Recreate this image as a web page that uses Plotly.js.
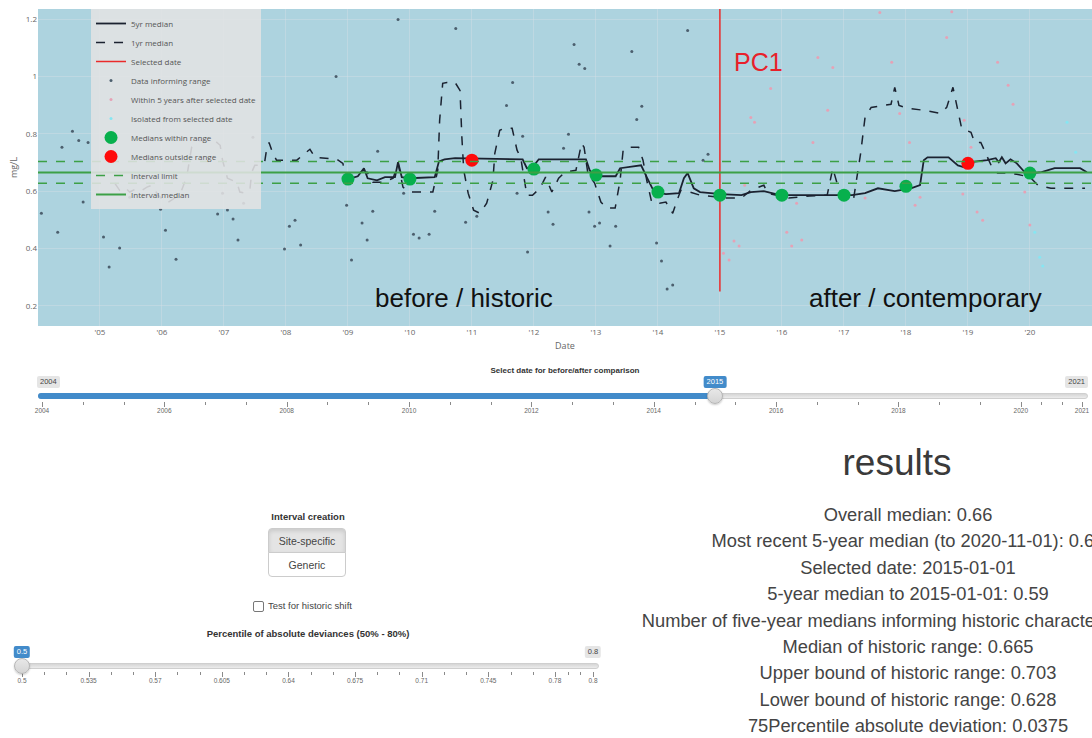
<!DOCTYPE html>
<html>
<head>
<meta charset="utf-8">
<script src="https://cdn.plot.ly/plotly-3.0.1.min.js"></script>
<style>
html,body{margin:0;padding:0;width:1092px;height:738px;overflow:hidden;background:#fff;
  font-family:"Liberation Sans",Arial,Helvetica,sans-serif;color:#333;}
#chart{position:absolute;left:0;top:0;width:1092px;height:360px;}
.a{position:absolute;white-space:nowrap;}
.ttl{font-weight:bold;color:#333;transform:translate(-50%,-50%);}
.line{background:linear-gradient(#d6d6d6,#ececec);border:1px solid #cfcfcf;border-radius:4px;height:4px;}
.bar{background:#428bca;border-radius:4px;height:6px;}
.handle{width:16px;height:16px;border-radius:50%;background:linear-gradient(#e8e8e8,#d4d4d4);border:1px solid #b5b5b5;box-sizing:border-box;transform:translate(-50%,-50%);box-shadow:0 1px 2px rgba(0,0,0,0.2);}
.lbl{font-size:7.5px;line-height:10px;padding:1px 3px;border-radius:2px;background:rgba(0,0,0,0.1);color:#444;}
.lbl.v{background:#428bca;color:#fff;}
.tk{width:1px;background:#8a8a8a;}
.gt{font-size:6.5px;color:#666;transform:translateX(-50%);}
.btn{left:268px;width:78px;height:25px;box-sizing:border-box;border:1px solid #ccc;font-size:10.5px;color:#444;
  display:flex;align-items:center;justify-content:center;background:#fff;}
.res{font-size:18.3px;color:#444;transform:translate(-50%,-50%);}
</style>
</head>
<body>
<div id="chart"></div>
<div id="ui"></div>
<script>
// ---------- data (decimal years, mg/L) ----------
const fiveYrT = [2009.0,2009.16,2009.26,2009.32,2009.47,2009.60,2009.76,2009.81,2009.87,2010.0,2010.40,2010.47,2010.56,2010.73,2011.82,2011.89,2011.98,2012.08,2012.84,2012.90,2012.98,2013.32,2013.39,2013.52,2013.73,2013.82,2013.94,2014.13,2014.34,2014.42,2014.48,2014.58,2014.68,2015.02,2015.35,2015.50,2015.71,2015.84,2015.97,2017.13,2017.34,2017.55,2017.82,2018.08,2018.23,2018.29,2018.35,2018.69,2018.84,2018.94,2019.05,2019.31,2019.45,2019.50,2019.55,2019.61,2019.69,2019.79,2019.92,2020.03,2020.19,2020.40,2020.81,2020.92];
const fiveYrV = [0.642,0.652,0.680,0.645,0.638,0.649,0.649,0.701,0.649,0.645,0.649,0.704,0.711,0.715,0.711,0.680,0.683,0.711,0.711,0.673,0.652,0.652,0.680,0.683,0.690,0.649,0.597,0.590,0.593,0.645,0.663,0.610,0.597,0.590,0.586,0.597,0.600,0.593,0.586,0.586,0.593,0.610,0.600,0.610,0.621,0.708,0.718,0.718,0.690,0.683,0.701,0.708,0.715,0.701,0.718,0.697,0.711,0.697,0.666,0.663,0.666,0.680,0.680,0.666];

const oneYrT = [2005.24,2005.32,2005.40,2005.48,2005.60,2005.68,2005.76,2005.84,2005.94,2006.08,
2006.21,2006.32,2006.40,2006.44,2006.48,2006.61,2006.85,2006.94,2006.98,2007.06,
2007.21,2007.26,2007.34,2007.42,2007.45,2007.50,2007.58,2007.66,2007.69,2007.73,
2007.79,2007.85,2008.18,2008.27,2008.39,2008.47,2008.60,2008.82,2008.92,2008.95,
2009.03,2009.19,2009.31,2009.40,2009.56,2009.73,2009.81,2009.89,2010.0,2010.37,
2010.45,2010.48,2010.53,2010.60,2010.73,2010.81,2010.84,2010.87,2010.94,2011.03,
2011.13,2011.24,2011.34,2011.37,2011.45,2011.52,2011.65,2011.73,2011.79,2011.85,
2011.89,2011.98,2012.10,2012.19,2012.29,2012.40,2012.50,2012.68,2012.77,2012.81,
2012.87,2012.98,2013.08,2013.18,2013.31,2013.39,2013.44,2013.52,2013.69,2013.76,
2013.82,2013.90,2014.03,2014.13,2014.24,2014.31,2014.37,2014.52,2014.68,2015.10,
2015.35,2015.50,2015.71,2015.77,2016.11,2016.45,2016.73,2016.82,2016.89,2016.97,
2017.16,2017.27,2017.34,2017.44,2017.68,2017.76,2017.82,2017.89,2018.02,2018.29,
2018.56,2018.66,2018.76,2018.84,2018.90,2019.05,2019.11,2019.21,2019.31,2019.39,
2019.48,2019.66,2019.79,2020.0,2020.13,2020.34,2020.89];
const oneYrV = [0.628,0.603,0.614,0.597,0.610,0.603,0.614,0.621,0.586,0.558,
0.576,0.603,0.649,0.708,0.753,0.777,0.777,0.760,0.708,0.645,
0.631,0.597,0.593,0.603,0.666,0.690,0.690,0.701,0.743,0.770,
0.732,0.708,0.708,0.725,0.746,0.718,0.715,0.711,0.697,0.663,
0.645,0.666,0.666,0.631,0.631,0.645,0.697,0.614,0.597,0.597,
0.673,0.847,0.976,0.979,0.979,0.951,0.788,0.673,0.593,0.534,
0.523,0.558,0.638,0.732,0.812,0.819,0.819,0.743,0.715,0.638,
0.586,0.586,0.610,0.649,0.597,0.645,0.666,0.673,0.767,0.753,
0.663,0.628,0.562,0.541,0.541,0.638,0.743,0.753,0.753,0.708,
0.638,0.562,0.558,0.562,0.523,0.569,0.603,0.597,0.586,0.576,
0.576,0.603,0.621,0.593,0.576,0.583,0.586,0.680,0.628,0.579,
0.579,0.732,0.857,0.892,0.899,0.903,0.962,0.899,0.889,0.882,
0.871,0.892,0.962,0.882,0.819,0.805,0.770,0.770,0.718,0.683,
0.663,0.663,0.659,0.649,0.621,0.610,0.610];

const informT = [2004.06,2004.32,2004.39,2004.56,2004.66,2004.73,2004.81,2005.06,2005.15,2005.32,
2005.48,2005.98,2006.06,2006.23,2006.90,2006.98,2007.06,2007.15,2007.23,2007.32,
2007.39,2007.47,2007.98,2008.06,2008.15,2008.24,2008.81,2008.98,2009.06,2009.23,
2009.31,2009.40,2009.48,2009.81,2009.90,2010.06,2010.15,2010.31,2010.40,2010.74,
2010.90,2011.08,2011.56,2011.66,2011.73,2011.82,2011.90,2012.23,2012.31,2012.48,
2012.56,2012.65,2012.73,2012.82,2012.89,2012.98,2013.06,2013.23,2013.32,2013.58,
2013.66,2013.74,2013.98,2014.06,2014.15,2014.24,2014.48,2014.73,2014.81];
const informV = [0.523,0.457,0.753,0.809,0.777,0.562,0.770,0.440,0.336,0.402,
0.579,0.537,0.464,0.363,0.520,0.593,0.534,0.503,0.430,0.558,
0.917,0.788,0.398,0.478,0.499,0.412,1.000,0.551,0.360,0.489,
0.430,0.530,0.739,1.198,0.593,0.450,0.437,0.450,0.530,1.167,
0.492,0.513,0.899,0.979,0.593,0.791,0.388,0.527,0.485,0.750,
0.798,1.111,1.042,1.028,0.527,0.478,0.489,0.409,0.478,1.087,
0.850,0.896,0.419,0.357,0.259,0.273,1.160,0.708,0.729];

const afterT = [2015.06,2015.15,2015.23,2015.31,2015.40,2015.50,2015.56,2015.82,2016.08,2016.16,
2016.24,2016.32,2016.50,2016.58,2016.74,2016.82,2017.34,2017.58,2017.77,2017.90,
2018.06,2018.15,2018.23,2018.66,2018.74,2018.92,2018.94,2019.05,2019.15,2019.24,
2019.48,2019.65,2019.73,2019.92,2020.0];
const afterV = [0.384,0.360,0.426,0.409,0.621,0.857,0.840,0.958,0.457,0.409,
0.558,0.430,0.770,1.066,0.882,1.031,0.576,1.223,1.049,0.871,
0.770,0.551,0.579,1.136,1.225,0.590,0.847,0.753,0.527,0.499,
1.049,0.969,0.903,0.597,0.482];

const isolatedT = [2020.08,2020.16,2020.21,2020.60,2020.74];
const isolatedV = [0.457,0.370,0.339,0.840,0.736];

const withinT = [2009,2010,2012,2013,2014,2015,2016,2017,2018,2020];
const withinV = [0.642,0.642,0.677,0.656,0.597,0.586,0.586,0.586,0.617,0.663];
const outsideT = [2011,2019];
const outsideV = [0.708,0.697];

const intervalMedian = 0.665;
const intervalUpper = 0.703;
const intervalLower = 0.628;
const selectedYear = 2015;
const selectedLineV = [0.25, 1.25];
const axisYears = [2004.005, 2021];

const legendNames = ['5yr median','1yr median','Selected date','Data informing range',
  'Within 5 years after selected date','Isolated from selected date','Medians within range',
  'Medians outside range','Interval limit','Interval median'];

// ---------- helpers ----------
function yrToDate(t){
  const y = Math.floor(t);
  const a = Date.UTC(y,0,1), b = Date.UTC(y+1,0,1);
  return new Date(a + (t-y)*(b-a)).toISOString().slice(0,10);
}
const D = arr => arr.map(yrToDate);
const x0 = yrToDate(axisYears[0]), x1 = yrToDate(axisYears[1]);
const selD = yrToDate(selectedYear);

const lineCol = '#1b2230';
const green = '#3ca046';

const traces = [
  {x:D(fiveYrT), y:fiveYrV, name:legendNames[0], mode:'lines', line:{color:lineCol,width:1.8}},
  {x:D(oneYrT), y:oneYrV, name:legendNames[1], mode:'lines', line:{color:lineCol,width:1.5,dash:'dash'}},
  {x:[selD,selD], y:selectedLineV, name:legendNames[2], mode:'lines', line:{color:'#ea2a2a',width:1.5}},
  {x:D(informT), y:informV, name:legendNames[3], mode:'markers', marker:{color:'#4c5f6e',size:3}},
  {x:D(afterT), y:afterV, name:legendNames[4], mode:'markers', marker:{color:'#e6a2b6',size:3}},
  {x:D(isolatedT), y:isolatedV, name:legendNames[5], mode:'markers', marker:{color:'#86e6f2',size:3}},
  {x:D(withinT), y:withinV, name:legendNames[6], mode:'markers', marker:{color:'#07b04d',size:13}},
  {x:D(outsideT), y:outsideV, name:legendNames[7], mode:'markers', marker:{color:'#ff0a0a',size:13}},
  {x:[x0,x1,null,x0,x1], y:[intervalUpper,intervalUpper,null,intervalLower,intervalLower], name:legendNames[8],
    mode:'lines', connectgaps:false, line:{color:green,width:1.5,dash:'dash'}},
  {x:[x0,x1], y:[intervalMedian,intervalMedian], name:legendNames[9], mode:'lines', line:{color:green,width:2}}
];

const layout = {
  width:1092, height:360,
  margin:{l:38,r:0,t:9,b:34,pad:0},
  paper_bgcolor:'#ffffff', plot_bgcolor:'#add3df',
  font:{family:'"Open Sans", sans-serif', size:9, color:'#555'},
  showlegend:true,
  xaxis:{type:'date', range:[x0,x1], tickformat:"'%y", dtick:'M12', tick0:'2005-01-01',
    gridcolor:'rgba(215,225,230,0.4)', gridwidth:1, zeroline:false, showline:false, ticks:'',
    tickfont:{size:8,color:'#666'}, title:{text:'Date', font:{size:9,color:'#666'}, standoff:6}},
  yaxis:{range:[0.13,1.235], dtick:0.2, tick0:0.2, gridcolor:'rgba(215,225,230,0.4)', zeroline:false,
    showline:false, ticks:'', tickfont:{size:8,color:'#666'}, title:{text:'mg/L', font:{size:9,color:'#666'}, standoff:6}},
  legend:{x:0.0503, y:1, xanchor:'left', yanchor:'top', bgcolor:'rgba(226,227,228,0.88)',
    borderwidth:0, font:{size:8,color:'#555'}, tracegroupgap:0},
  annotations:[
    {x:yrToDate(2015.63), y:1.049, text:'PC1', showarrow:false, font:{family:'"Liberation Sans", Arial', size:25, color:'#e8202a'}},
    {x:yrToDate(2010.87), y:0.228, text:'before / historic', showarrow:false, font:{family:'"Liberation Sans", Arial', size:26, color:'#111'}},
    {x:yrToDate(2018.31), y:0.228, text:'after / contemporary', showarrow:false, font:{family:'"Liberation Sans", Arial', size:26, color:'#111'}}
  ]
};

Plotly.newPlot('chart', traces, layout, {displayModeBar:false});

// ---------- widgets (HTML) ----------
const ui = document.getElementById('ui');
function el(cls, css, text){
  const d = document.createElement('div');
  d.className = 'a ' + (cls||'');
  Object.assign(d.style, css);
  if (text !== undefined) d.textContent = text;
  ui.appendChild(d);
  return d;
}

function slider(o){
  const pos = v => o.left + (v - o.min)/(o.max - o.min)*(o.right - o.left);
  el('ttl', {left:o.titleX+'px', top:o.titleY+'px', fontSize:o.titleSize+'px'}, o.title);
  el('line', {left:(o.left-4)+'px', top:(o.y-3)+'px', width:(o.right-o.left+8)+'px'});
  const hx = pos(o.value);
  if (hx > o.left) el('bar', {left:(o.left-4)+'px', top:(o.y-3)+'px', width:(hx-o.left+4)+'px'});
  const M = o.ticks;
  for (let i=0;i<M.length;i++){
    const px = pos(M[i]);
    el('tk', {left:px+'px', top:(o.y+6)+'px', height:'5px'});
    el('gt', {left:px+'px', top:(o.y+11)+'px'}, o.fmt(M[i]));
    if (i < M.length-1){
      const nx = pos(M[i+1]);
      for (let k=1;k<=2;k++) el('tk', {left:(px+(nx-px)*k/3)+'px', top:(o.y+6)+'px', height:'3px'});
    }
  }
  el('handle', {left:hx+'px', top:o.y+'px'});
  if (o.showMinLabel) el('lbl', {left:(o.left-5)+'px', top:(o.y-20)+'px'}, o.fmt(o.min));
  if (o.maxRight) el('lbl', {right:(1092-o.right-6)+'px', top:(o.y-20)+'px'}, o.maxLabel);
  else el('lbl', {left:(o.right)+'px', top:(o.y-20)+'px', transform:'translateX(-50%)'}, o.maxLabel);
  el('lbl v', {left:hx+'px', top:(o.y-20)+'px', transform:'translateX(-50%)'}, o.fmt(o.value));
}

// date slider
const dateTicks = [2004,2006,2008,2010,2012,2014,2016,2018,2020,2021];
slider({left:42, right:1082, y:396, min:2004, max:2021, value:2015, ticks:dateTicks,
  fmt:v=>String(v), showMinLabel:true, maxLabel:'2021', maxRight:true,
  title:'Select date for before/after comparison', titleX:565, titleY:370, titleSize:8});

// percentile slider
const pctTicks = [0.5,0.535,0.57,0.605,0.64,0.675,0.71,0.745,0.78,0.8];
slider({left:22, right:593, y:666, min:0.5, max:0.8, value:0.5, ticks:pctTicks,
  fmt:v=>String(v), showMinLabel:false, maxLabel:'0.8', maxRight:false,
  title:'Percentile of absolute deviances (50% - 80%)', titleX:308, titleY:633, titleSize:9.5});

// interval creation
el('ttl', {left:'308px', top:'516px', fontSize:'9.5px'}, 'Interval creation');
el('btn', {top:'528px', background:'#e4e4e4', borderRadius:'4px 4px 0 0',
  boxShadow:'inset 0 2px 4px rgba(0,0,0,0.12)'}, 'Site-specific');
el('btn', {top:'552px', borderRadius:'0 0 4px 4px'}, 'Generic');

// checkbox
el('', {left:'253px', top:'601px', width:'9px', height:'9px', border:'1px solid #777', borderRadius:'2px', background:'#fff'});
el('', {left:'268px', top:'600px', fontSize:'9.5px', color:'#444'}, 'Test for historic shift');

// results
el('', {left:'897px', top:'463px', fontSize:'37px', color:'#3a3a3a', transform:'translate(-50%,-50%)'}, 'results');
const resultLines = [
  'Overall median: 0.66',
  'Most recent 5-year median (to 2020-11-01): 0.66',
  'Selected date: 2015-01-01',
  '5-year median to 2015-01-01: 0.59',
  'Number of five-year medians informing historic characterisation: 6',
  'Median of historic range: 0.665',
  'Upper bound of historic range: 0.703',
  'Lower bound of historic range: 0.628',
  '75Percentile absolute deviation: 0.0375'
];
resultLines.forEach((t,i) => el('res', {left:'908px', top:(515 + i*26.4)+'px'}, t));
</script>
</body>
</html>
